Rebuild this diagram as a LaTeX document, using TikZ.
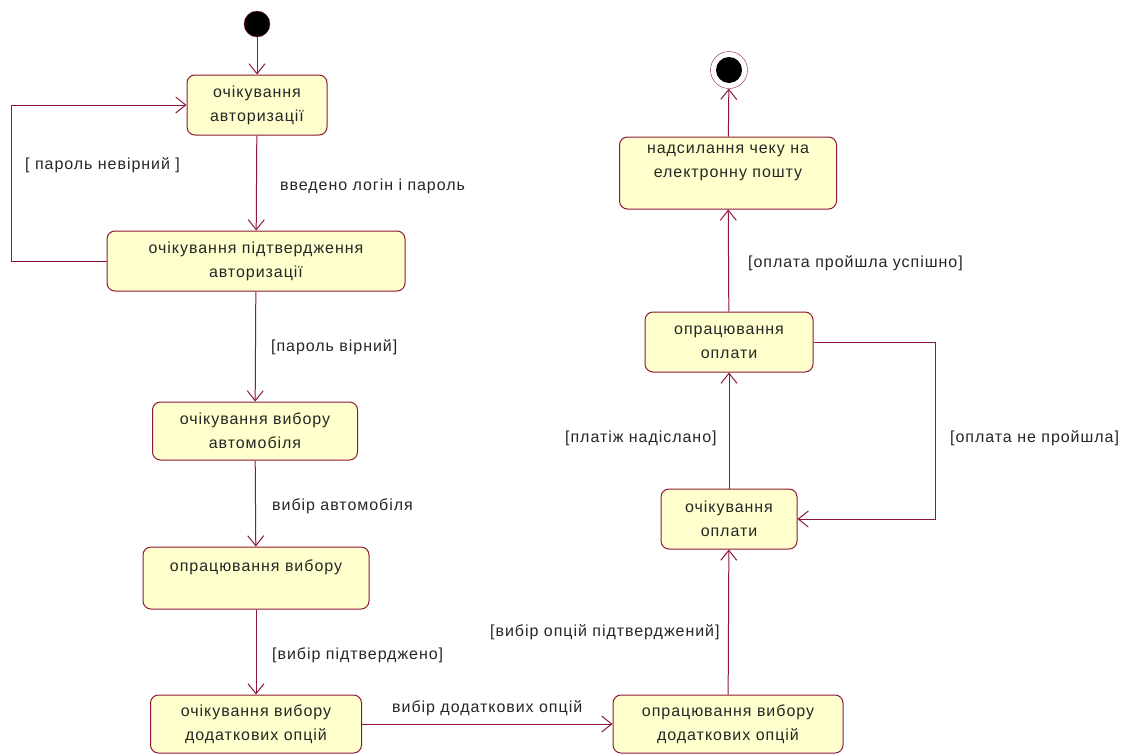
\documentclass[tikz,border=0pt]{standalone}
\usepackage{fontspec}
\setmainfont{Liberation Sans}[LetterSpace=6]
\usetikzlibrary{arrows.meta,positioning}
\definecolor{umlline}{RGB}{140,24,56}
\definecolor{umlfill}{RGB}{255,255,206}
\tikzset{
  stan/.style = {draw=umlline, fill=umlfill, rounded corners=8pt, align=center, line width=1pt,
    inner sep=0pt, font=\fontsize{16}{24}\selectfont, text=black!85},% стан
  pochatok/.style = {circle, fill=black, draw=umlline, minimum size=26pt, inner sep=0pt},
  kinec/.style = {circle, fill=white, draw=umlline, minimum size=37pt, inner sep=0pt,
    path picture={\fill[black] (path picture bounding box.center) circle (13pt);}},
  perehid/.style = {draw=umlline, line width=1pt, -{Straight Barb[length=10pt,width=16pt]}},
  mitka/.style = {font=\fontsize{16}{18}\selectfont, inner sep=0pt, anchor=west, text=black!85}
}
\begin{document}
\begin{tikzpicture}[x=1pt,y=-1pt]
  \useasboundingbox (0,0) rectangle (1123,753);
  % ліва колонка
  \node [pochatok] (poch) at (257,24) {};
  \node [stan, minimum width=140pt, minimum height=60pt] (avt) at (257,105) {очікування\\авторизації};
  \node [stan, minimum width=298pt, minimum height=60pt] (pidtv) at (256,261) {очікування підтвердження\\авторизації};
  \node [stan, minimum width=205pt, minimum height=58pt] (avto) at (255,431) {очікування вибору\\автомобіля};
  \node [stan, minimum width=226pt, minimum height=62pt] (obr) at (256,578) {опрацювання вибору\\\mbox{}};
  \node [stan, minimum width=211pt, minimum height=58pt] (dod) at (256,724) {очікування вибору\\додаткових опцій};
  % права колонка
  \node [stan, minimum width=230pt, minimum height=58pt] (dod_opr) at (728,724) {опрацювання вибору\\додаткових опцій};
  \node [stan, minimum width=136pt, minimum height=60pt] (opl_och) at (729,519) {очікування\\оплати};
  \node [stan, minimum width=168pt, minimum height=60pt] (opl_opr) at (729,342) {опрацювання\\оплати};
  \node [stan, minimum width=217pt, minimum height=72pt] (chek) at (728,173) {надсилання чеку на\\електронну пошту\\\mbox{}};
  \node [kinec] (kin) at (729,70) {};

  % переходи
  \draw [perehid] (poch) -- (avt);
  \draw [perehid] (avt) -- (pidtv);
  \draw [perehid] (pidtv.west) -- ++(-95,0) |- (avt.west);
  \draw [perehid] (pidtv) -- (avto);
  \draw [perehid] (avto) -- (obr);
  \draw [perehid] (obr) -- (dod);
  \draw [perehid] (dod) -- (dod_opr);
  \draw [perehid] (dod_opr) -- (opl_och);
  \draw [perehid] (opl_och) -- (opl_opr);
  \draw [perehid] (opl_opr.east) -- ++(122,0) |- (opl_och.east);
  \draw [perehid] (opl_opr) -- (chek);
  \draw [perehid] (chek) -- (kin);

  % підписи
  \node [mitka] (m1) at (280,186) {введено логін і пароль};
  \node [mitka] (m2) at (25,165) {[ пароль невірний ]};
  \node [mitka] (m3) at (271,347) {[пароль вірний]};
  \node [mitka] (m4) at (272,506) {вибір автомобіля};
  \node [mitka] (m5) at (272,655) {[вибір підтверджено]};
  \node [mitka] (m6) at (392,708) {вибір додаткових опцій};
  \node [mitka] (m7) at (490,632) {[вибір опцій підтверджений]};
  \node [mitka] (m8) at (565,438) {[платіж надіслано]};
  \node [mitka] (m9) at (950,438) {[оплата не пройшла]};
  \node [mitka] (m10) at (748,263) {[оплата пройшла успішно]};
\end{tikzpicture}
\end{document}
